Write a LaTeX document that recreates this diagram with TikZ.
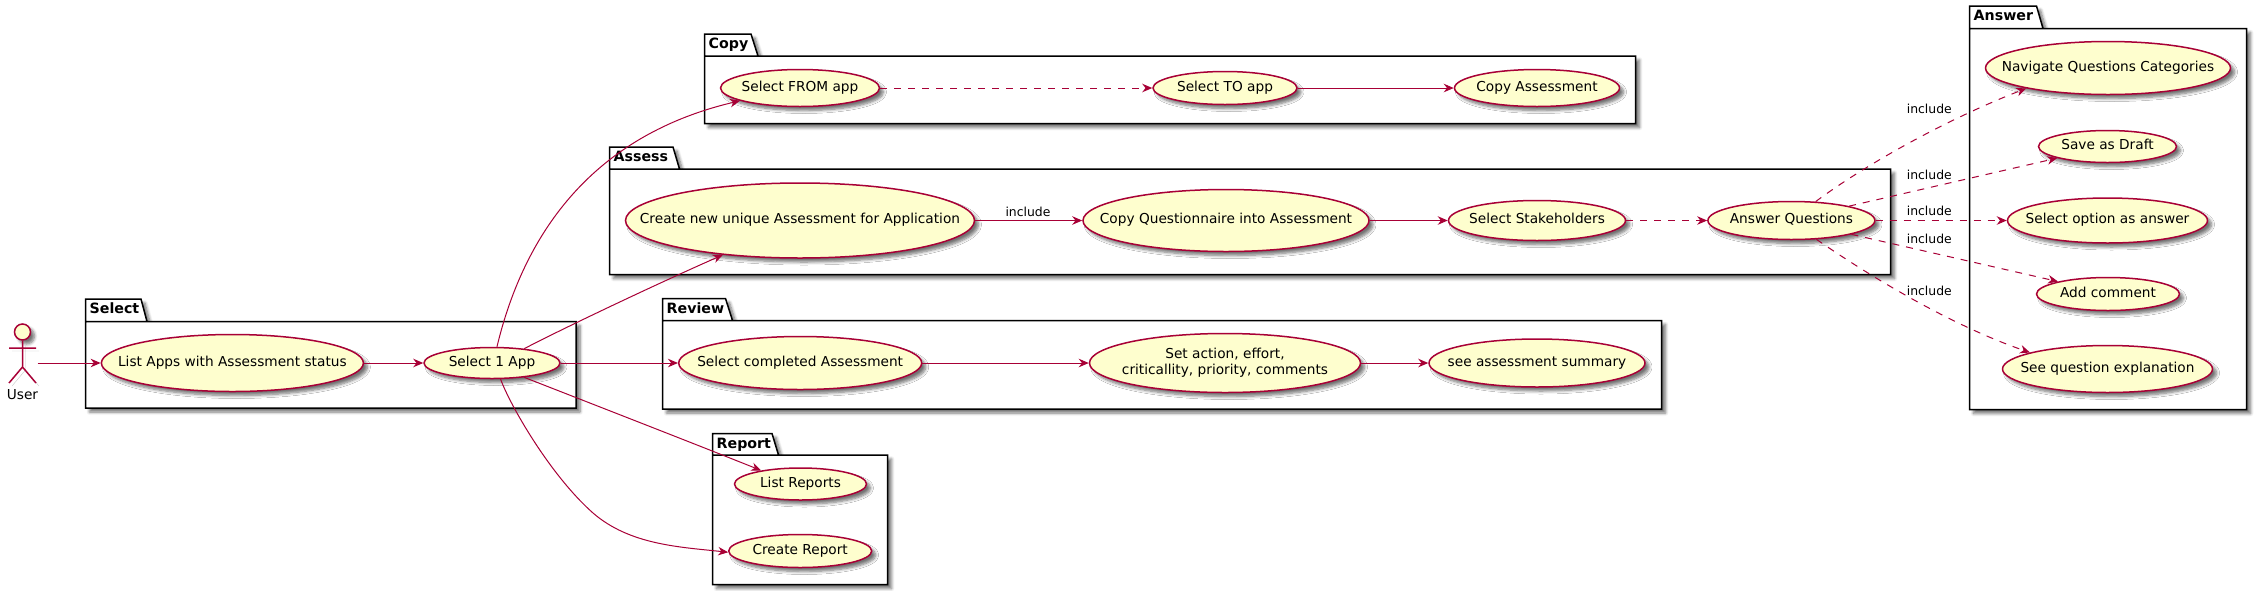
\documentclass[tikz,border=0pt]{standalone}
\usepackage{fontspec}
\setmainfont{DejaVu Sans}
\usepackage{tikz}
\usetikzlibrary{
  arrows.meta,
  shapes.geometric,
  shadows.blur,
  }
\definecolor{umlred}{HTML}{A80036}
\definecolor{umlyellow}{HTML}{FEFECE}
\newcommand{\uclabel}[1]{\makebox[0pt]{\fontsize{13.7}{16.6}\selectfont\begin{tabular}{@{}c@{}}#1\end{tabular}}}
\tikzset{
  softshadow/.style={blur shadow={shadow xshift=4pt, shadow yshift=-4pt, shadow blur steps=6, shadow blur radius=3pt, shadow opacity=55}},
  uc/.style 2 args={ellipse, draw=umlred, fill=umlyellow, line width=1.5pt, inner sep=0pt, minimum width=#1pt, minimum height=#2pt, softshadow},
  pkgframe/.style={draw=black, fill=white, line width=1.5pt, line join=miter, softshadow},
  pkgtitle/.style={anchor=base west, inner sep=0pt, font=\fontsize{14.2}{16}\selectfont\bfseries},
  flow/.style={draw=umlred, line width=1pt, -{Stealth[length=10pt, width=8.5pt, inset=3.2pt]}},
  dep/.style={flow, dash pattern=on 7pt off 7pt},
  edgelabel/.style={inner sep=0pt, font=\fontsize{12.4}{14}\selectfont},
  actorline/.style={draw=umlred, line width=1.5pt, preaction={draw=black!22, transform canvas={shift={(3pt,-3pt)}}}},
}
\begin{document}
\begin{tikzpicture}[x=1pt, y=-1pt]
                \useasboundingbox (0,0) rectangle (2262,590);

                \draw[pkgframe] (85.5,299) -- (141,299) -- (147,321.5) -- (576,321.5) -- (576,408) -- (85.5,408) -- cycle (85.5,321.5) -- (147,321.5);
                \draw[pkgframe] (704.5,34) -- (751,34) -- (758,56) -- (1635.5,56) -- (1635.5,123.5) -- (704.5,123.5) -- cycle (704.5,56) -- (758,56);
                \draw[pkgframe] (609.5,147) -- (673,147) -- (679.5,169) -- (1890.5,169) -- (1890.5,274.5) -- (609.5,274.5) -- cycle (609.5,169) -- (679.5,169);
                \draw[pkgframe] (662.5,298.5) -- (725.5,298.5) -- (732.5,320.5) -- (1661.5,320.5) -- (1661.5,409) -- (662.5,409) -- cycle (662.5,320.5) -- (732.5,320.5);
                \draw[pkgframe] (712.5,433.5) -- (772,433.5) -- (778.5,455) -- (887.5,455) -- (887.5,584.5) -- (712.5,584.5) -- cycle (712.5,455) -- (778.5,455);
                \draw[pkgframe] (1969.5,6) -- (2036.5,6) -- (2043,28.5) -- (2246.5,28.5) -- (2246.5,409.5) -- (1969.5,409.5) -- cycle (1969.5,28.5) -- (2043,28.5);

                \node[pkgtitle] (selecttitle) at (89.5,313.5) {Select};
                \node[pkgtitle] (copytitle) at (708.5,48.5) {Copy};
                \node[pkgtitle] (assesstitle) at (613.5,161.5) {Assess};
                \node[pkgtitle] (reviewtitle) at (666.5,313) {Review};
                \node[pkgtitle] (reporttitle) at (716.5,448) {Report};
                \node[pkgtitle] (answertitle) at (1973.5,20.5) {Answer};

                \node[circle, draw=umlred, fill=umlyellow, line width=1.5pt, inner sep=0pt, minimum size=16pt, softshadow] (userhead) at (22.5,332) {};
                \coordinate (userhip) at (22.5,367);
                \coordinate (userlarm) at (9,348);
                \coordinate (userrarm) at (36,348);
                \coordinate (userlleg) at (9,383);
                \coordinate (userrleg) at (36,383);
                \coordinate (userport) at (37.5,363);
                \draw[actorline] (userhead) -- (userhip) (userlarm) -- (userrarm) (userlleg) -- (userhip) -- (userrleg);
                \node[font=\fontsize{13.7}{16}\selectfont, inner sep=0pt] (userlabel) at (22.5,395) {User};

                \node[uc={262}{57}] (listapps) at (232.4,363) {\uclabel{List Apps with Assessment status}};
                \node[uc={136}{31}] (selectapp) at (492,363) {\uclabel{Select 1 App}};

                \node[uc={159}{37}] (fromapp) at (800,88) {\uclabel{Select FROM app}};
                \node[uc={144}{33}] (toapp) at (1225,88) {\uclabel{Select TO app}};
                \node[uc={165}{37}] (copyassess) at (1537,88) {\uclabel{Copy Assessment}};

                \node[uc={349}{75}] (createnew) at (800,220.5) {\uclabel{Create new unique Assessment for Application}};
                \node[uc={286}{62}] (copyquest) at (1226,220.5) {\uclabel{Copy Questionnaire into Assessment}};
                \node[uc={177}{40}] (stakeholders) at (1537,220.5) {\uclabel{Select Stakeholders}};
                \node[uc={167}{38}] (answerq) at (1791.4,220.5) {\uclabel{Answer Questions}};

                \node[uc={243}{53}] (completed) at (800.2,363) {\uclabel{Select completed Assessment}};
                \node[uc={271}{59}] (setaction) at (1225,363) {\uclabel{Set action, effort,\\criticallity, priority, comments}};
                \node[uc={216}{48}] (summary) at (1537,363) {\uclabel{see assessment summary}};

                \node[uc={132}{32}] (listreports) at (800.5,484) {\uclabel{List Reports}};
                \node[uc={143}{33}] (createreport) at (800.2,551) {\uclabel{Create Report}};

                \node[uc={245}{53}] (navigate) at (2108,68) {\uclabel{Navigate Questions Categories}};
                \node[uc={138}{32}] (savedraft) at (2107.5,146.5) {\uclabel{Save as Draft}};
                \node[uc={200}{45}] (selectoption) at (2107.5,220.5) {\uclabel{Select option as answer}};
                \node[uc={143}{33}] (addcomment) at (2108,294) {\uclabel{Add comment}};
                \node[uc={210}{47}] (explanation) at (2107.5,369) {\uclabel{See question explanation}};

                \draw[flow] (userport) -- (listapps);
                \draw[flow] (listapps) -- (selectapp);
                \draw[flow] (selectapp.73) .. controls (525,230) and (595,135) .. (fromapp.192);
                \draw[flow] (selectapp.24) .. controls (560,330) and (650,287) .. (createnew.204);
                \draw[flow] (selectapp) -- (completed);
                \draw[flow] (selectapp.336) .. controls (600,407) and (690,442) .. (listreports.161);
                \draw[flow] (selectapp.298) .. controls (510,405) and (550,475) .. (593,513) .. controls (630,545) and (680,547) .. (createreport.181);

                \draw[dep] (fromapp) -- (toapp);
                \draw[flow] (toapp) -- (copyassess);

                \draw[flow] (createnew) -- (copyquest);
                \draw[flow] (copyquest) -- (stakeholders);
                \draw[dep] (stakeholders) -- (answerq);

                \draw[flow] (completed) -- (setaction);
                \draw[flow] (setaction) -- (summary);

                \draw[dep] (answerq.38) .. controls (1865,165) and (1945,120) .. (navigate.194);
                \draw[dep] (answerq.14) -- (savedraft.193);
                \draw[dep] (answerq) -- (selectoption);
                \draw[dep] (answerq.347) -- (addcomment.166);
                \draw[dep] (answerq.323) .. controls (1868,275) and (1950,325) .. (explanation.168);

                \node[edgelabel] (incstart) at (1028,211.5) {include};
                \node[edgelabel] (incnav) at (1929.3,108.5) {include};
                \node[edgelabel] (incsave) at (1929.3,174.5) {include};
                \node[edgelabel] (incoption) at (1929.3,211) {include};
                \node[edgelabel] (inccomment) at (1929.3,239) {include};
                \node[edgelabel] (incexplain) at (1929.3,291) {include};
\end{tikzpicture}
\end{document}
